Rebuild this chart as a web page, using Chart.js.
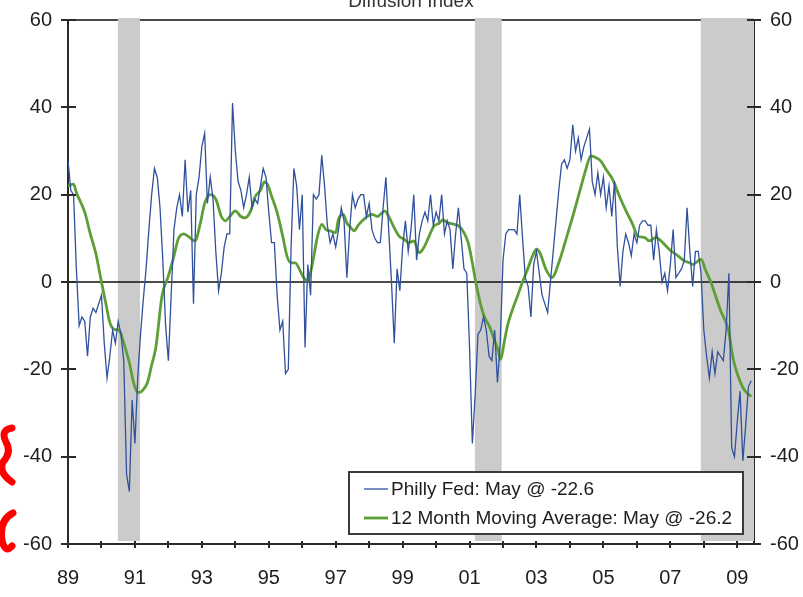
<!DOCTYPE html>
<html>
<head>
<meta charset="utf-8">
<title>Philly Fed Diffusion Index</title>
<script src="https://cdn.jsdelivr.net/npm/chart.js@4.4.1/dist/chart.umd.min.js"></script>
<style>
    html, body { margin: 0; padding: 0; background: #ffffff; }
    #chartLine { display: block; }
</style>
</head>
<body>
<canvas id="chartLine" width="803" height="597"></canvas>
<script>
// Philly Fed business outlook: monthly index from Jan 1989
var startYear = 1989;
var phillyFed = [
    28, 21, 20, 3, -10, -8, -9, -17, -8, -6, -7, -5,
    -3, -14, -22, -17, -11, -14, -9, -12, -18, -44, -48, -27,
    -37, -22, -12, -4, 3, 12, 20, 26, 24, 17, 5, -10,
    -18, -3, 12, 17, 20, 15, 28, 16, 21, -5, 20, 24,
    31, 34, 18, 24, 19, 7, -2, 2, 8, 11, 11, 41,
    30, 23, 21, 17, 20, 24, 17, 19, 18, 22, 26, 24,
    16, 9, 9, -3, -11, -9, -21, -20, 8, 26, 22, 12,
    20, -15, 4, -3, 20, 19, 20, 29, 22, 13, 9, 11,
    8, 12, 17, 14, 1, 12, 20, 17, 19, 20, 20, 15,
    18, 12, 10, 9, 9, 17, 24, 12, 0, -14, 3, -2,
    8, 14, 7, 12, 20, 5, 11, 14, 16, 14, 20, 13,
    16, 14, 20, 11, 14, 12, 3, 11, 17, 10, 3, 2,
    -15, -37, -26, -12, -11, -8, -11, -17, -18, -11, -23, -14,
    5, 11, 12, 12, 12, 11, 20, 10, 1, -1, -8, 4,
    7, 2, -3, -5, -7, 0, 7, 14, 21, 27, 28, 26,
    28, 36, 30, 33, 28, 31, 33, 35, 23, 20, 25, 20,
    24, 17, 22, 15, 23, 8, -1, 7, 11, 9, 6, 11,
    9, 13, 14, 14, 13, 13, 5, 12, 7, 0, 2, -2,
    4, 12, 1, 2, 3, 5, 17, 7, -1, 7, 7, 2,
    -11, -17, -22, -16, -21, -16, -17, -18, -11, 2, -38, -40,
    -32, -25, -41, -33, -24, -22.6
];

// 12 month moving average, months after Jan 1989 and value
var maMonth = [
    0, 2, 3, 6, 8, 10, 12, 13.5, 15, 16.5, 18.5, 20, 22, 23.5, 25, 26.5, 28.5, 30, 31.5, 33.7,
    36, 38, 39.5, 41.5, 43, 45.5, 47.5, 49, 51, 53, 55, 56.5, 58, 60, 62, 63.5, 65.5, 67, 69, 70.5,
    71.5, 73, 75, 77, 78.5, 80, 81.5, 83, 84.5, 86, 87.5, 89.5, 91, 92.5, 94, 96, 97, 98.7, 100, 101.5,
    102.5, 104.3, 106.7, 109, 111, 112, 113.6, 115, 117, 118.7, 120.5, 122.3, 124, 126, 127.6, 129.5, 131.2, 133, 134.5, 136,
    138.5, 140.2, 142, 143.5, 145, 146.2, 147.8, 149.2, 151, 152.8, 154.3, 155.2, 156.4, 157.6, 159.4, 161.2, 163, 164.8, 166.6, 168,
    169.2, 171.4, 173.5, 176.2, 178.6, 181, 183.4, 185.7, 187.5, 189.3, 191.1, 192.9, 195.3, 197.7, 200.1, 202.5, 204.3, 206.7, 208.5, 210.9,
    212.7, 214.5, 216.3, 218.7, 221.1, 222.9, 224.1, 225.9, 227.1, 228.5, 230.5, 234, 236.8, 238.5, 240, 242.5, 245
];
var maValue = [
    22, 22.4, 20.5, 16, 11, 6.5, 0, -4.7, -9.3, -10.8, -11.2, -14, -18.5, -23, -25.3, -25, -23, -19, -15, -3.2,
    1.4, 6, 9.8, 11, 10.5, 9.4, 13.6, 18, 20, 19, 15, 14, 15, 16.3, 15, 14.7, 16.3, 19.4, 21, 22.9,
    22.4, 19.7, 15.9, 10.5, 6, 4.4, 4.4, 2.9, 1, 0.2, 3.7, 10.5, 13.2, 12, 11.7, 11.3, 14.4, 15.5, 13.5, 12.4,
    11.7, 13.2, 14.7, 15.5, 15, 15.5, 16.3, 15, 12.4, 10.5, 9.8, 9, 9.4, 6.7, 7.9, 10.5, 12.8, 13.4, 14.2, 13.6,
    13.2, 12.8, 11.3, 9, 4.4, 0, -4.7, -7.8, -10, -13, -15.8, -17.7, -13.9, -10, -6.3, -3.2, 0, 2.9, 6, 7.5,
    6.7, 2.9, 1, 4.8, 9.8, 15, 20.5, 25.8, 28.9, 28.5, 27.7, 25.8, 23.5, 19.7, 16.3, 13.2, 10.5, 10.2, 9.4, 10.2,
    9.4, 8.2, 7.1, 6, 4.8, 4.4, 4, 4.8, 5.2, 2.9, 0, -6.5, -11, -17.5, -21, -24.7, -26.2
];

var seriesLabels = ['Philly Fed: May @ -22.6', '12 Month Moving Average: May @ -26.2'];
var chartTitle = 'Diffusion Index';

// recessions (decimal years)
var recessionStart = [1990.49, 2001.16, 2007.91];
var recessionEnd = [1991.15, 2001.96, 2009.6];

var yTicks = [-60, -40, -20, 0, 20, 40, 60];
var xYears = [1989, 1990, 1991, 1992, 1993, 1994, 1995, 1996, 1997, 1998, 1999,
    2000, 2001, 2002, 2003, 2004, 2005, 2006, 2007, 2008, 2009];
var xMin = 1989, xMax = 2009.5;

function chartPhilly() {
    "use strict";

    var phillyPoints = phillyFed.map(function (v, i) {
        return { x: startYear + i / 12, y: v };
    });
    var maPoints = maMonth.map(function (m, i) {
        return { x: startYear + m / 12, y: maValue[i] };
    });

    var blue = '#30519c';
    var green = '#5e9e36';
    var axisColor = '#2b2b2b';
    var font = '"Liberation Sans", Arial, sans-serif';

    // gray recession bars, the frame line and the zero line
    var backdrop = {
        id: 'backdrop',
        beforeDatasetsDraw: function (chart) {
            var c = chart.ctx, a = chart.chartArea;
            var xs = chart.scales.x, ys = chart.scales.y;
            c.save();
            c.strokeStyle = '#4a4a4a';
            c.lineWidth = 2;
            c.beginPath();
            c.moveTo(a.left, a.top);
            c.lineTo(a.right, a.top);
            c.stroke();

            c.fillStyle = '#cbcbcb';
            recessionStart.forEach(function (s, i) {
                var x1 = xs.getPixelForValue(s);
                var x2 = Math.min(xs.getPixelForValue(recessionEnd[i]), a.right);
                c.fillRect(x1, a.top - 2, x2 - x1, a.bottom - a.top - 1);
            });

            var y0 = ys.getPixelForValue(0);
            c.strokeStyle = '#111';
            c.lineWidth = 1.4;
            c.beginPath();
            c.moveTo(a.left, y0);
            c.lineTo(a.right + 6, y0);
            c.stroke();
            c.restore();
        }
    };

    // cross tick marks, title, legend box and the red scribble on the left
    var overlay = {
        id: 'overlay',
        afterDatasetsDraw: function (chart) {
            var c = chart.ctx, a = chart.chartArea;
            var xs = chart.scales.x, ys = chart.scales.y;
            c.save();
            c.strokeStyle = axisColor;
            c.lineWidth = 2;
            c.beginPath();
            xYears.forEach(function (yr) {
                var px = Math.round(xs.getPixelForValue(yr));
                c.moveTo(px, a.bottom - 3);
                c.lineTo(px, a.bottom + 4);
            });
            yTicks.forEach(function (t) {
                var py = Math.round(ys.getPixelForValue(t));
                c.moveTo(a.left - 7, py);
                c.lineTo(a.left + 8, py);
                c.moveTo(a.right - 7, py);
                c.lineTo(a.right + 7, py);
            });
            c.moveTo(a.left - 6, a.bottom);
            c.lineTo(a.left, a.bottom);
            c.stroke();

            // title, mostly cut off by the top edge
            c.fillStyle = '#333';
            c.font = '19px ' + font;
            c.textAlign = 'center';
            c.textBaseline = 'alphabetic';
            c.fillText(chartTitle, 411, 7);

            // legend
            var lx = 349, ly = 472, lw = 394, lh = 62;
            c.fillStyle = '#ffffff';
            c.fillRect(lx, ly, lw, lh);
            c.strokeStyle = '#3a3a3a';
            c.lineWidth = 2;
            c.strokeRect(lx, ly, lw, lh);
            chart.data.datasets.forEach(function (ds, i) {
                var ry = ly + 17 + i * 29;
                c.strokeStyle = ds.borderColor;
                c.lineWidth = ds.borderWidth;
                c.beginPath();
                c.moveTo(lx + 15, ry);
                c.lineTo(lx + 39, ry);
                c.stroke();
                c.fillStyle = '#1e1e1e';
                c.font = '19px ' + font;
                c.textAlign = 'left';
                c.textBaseline = 'middle';
                c.fillText(ds.label, lx + 42, ry + 1);
            });

            // red marks at the left edge
            c.strokeStyle = '#ff0000';
            c.lineWidth = 7;
            c.lineCap = 'round';
            c.beginPath();
            c.moveTo(12, 428);
            c.quadraticCurveTo(0, 430, 6, 442);
            c.quadraticCurveTo(12, 452, 3, 462);
            c.quadraticCurveTo(-2, 472, 12, 482);
            c.stroke();
            c.beginPath();
            c.moveTo(13, 513);
            c.quadraticCurveTo(-1, 520, 2, 540);
            c.quadraticCurveTo(5, 554, 12, 546);
            c.stroke();
            c.restore();
        }
    };

    var yAxis = function (pos, width) {
        return {
            type: 'linear',
            position: pos,
            min: -60,
            max: 60,
            grid: { display: false, drawTicks: false },
            border: { display: true, color: axisColor, width: 2 },
            ticks: {
                stepSize: 20,
                padding: 16,
                color: '#1e1e1e',
                font: { family: font, size: 20 }
            },
            afterFit: function (s) {
                s.width = width;
                s.paddingTop = 0;
                s.paddingBottom = 0;
            }
        };
    };

    var ctx = document.getElementById('chartLine').getContext('2d');
    var chart = new Chart(ctx, {
        type: 'line',
        data: {
            datasets: [{
                label: seriesLabels[0],
                data: phillyPoints,
                borderColor: blue,
                borderWidth: 1.3,
                pointRadius: 0,
                tension: 0
            }, {
                label: seriesLabels[1],
                data: maPoints,
                borderColor: green,
                borderWidth: 2.8,
                pointRadius: 0,
                cubicInterpolationMode: 'monotone'
            }]
        },
        options: {
            responsive: false,
            animation: false,
            layout: { padding: { top: 20, left: 0, right: 0, bottom: 0 } },
            plugins: {
                legend: { display: false },
                tooltip: { enabled: false }
            },
            scales: {
                x: {
                    type: 'linear',
                    min: xMin,
                    max: xMax,
                    grid: { display: false, drawTicks: false },
                    border: { display: true, color: axisColor, width: 2 },
                    afterBuildTicks: function (s) {
                        s.ticks = xYears.map(function (v) { return { value: v }; });
                    },
                    ticks: {
                        autoSkip: false,
                        maxRotation: 0,
                        padding: 22,
                        color: '#1e1e1e',
                        font: { family: font, size: 20 },
                        callback: function (v) {
                            return (v % 2 === 1) ? String(v).slice(2) : '';
                        }
                    },
                    afterFit: function (s) { s.height = 53; }
                },
                y: yAxis('left', 68),
                y2: yAxis('right', 49)
            }
        },
        plugins: [backdrop, overlay]
    });
}

chartPhilly();
</script>
</body>
</html>
